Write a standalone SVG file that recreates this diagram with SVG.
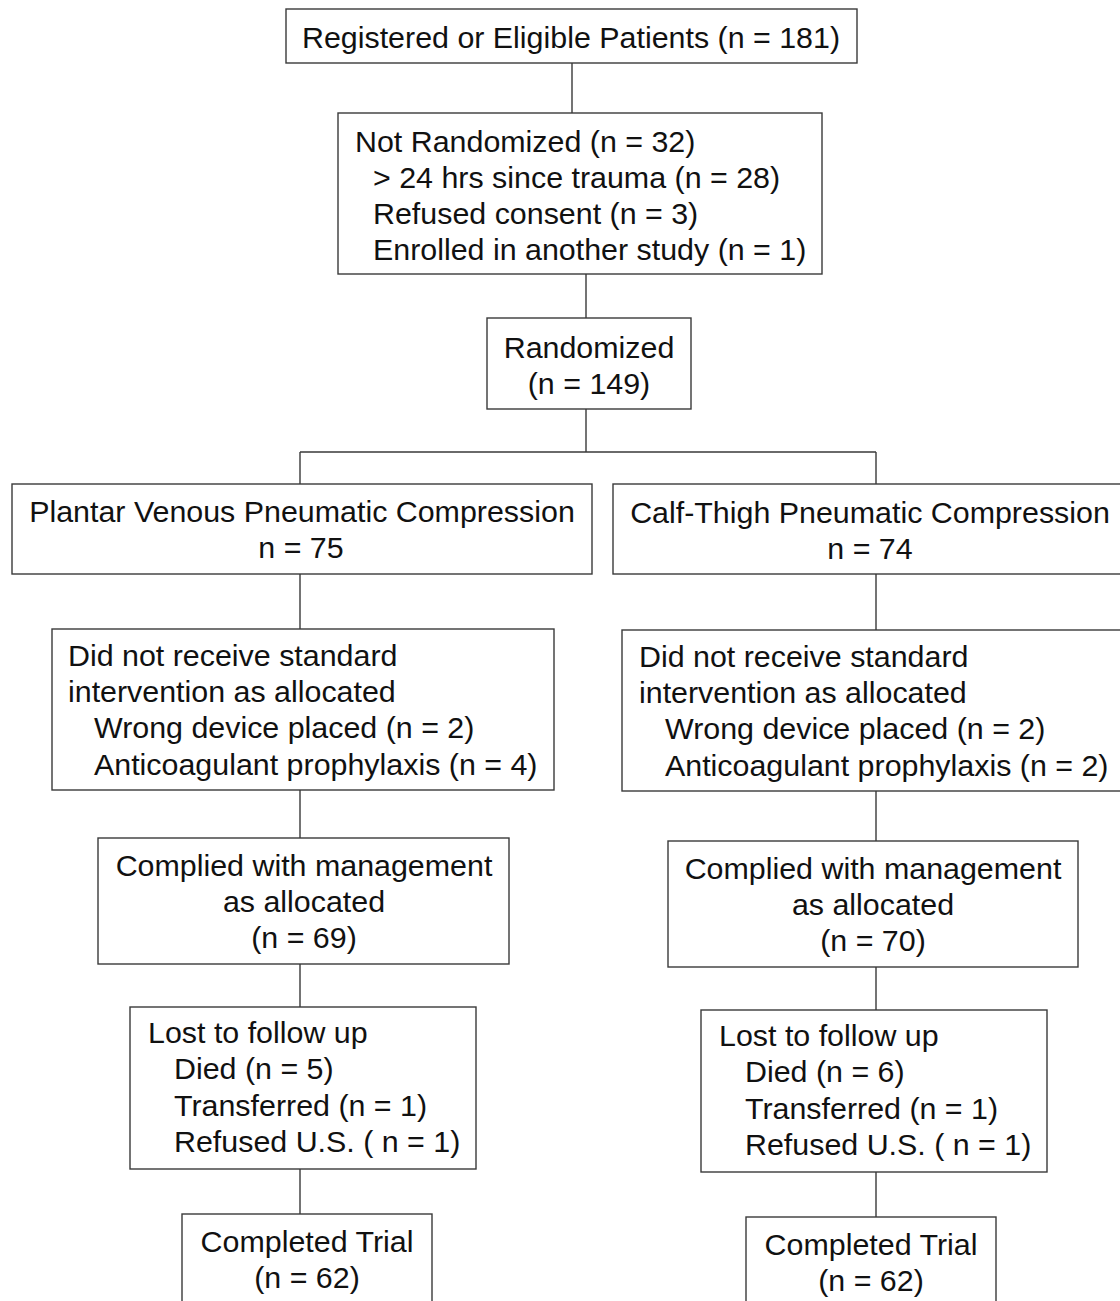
<svg xmlns="http://www.w3.org/2000/svg" width="1120" height="1301" viewBox="0 0 1120 1301">
<style>
.box{fill:#fff;stroke:#3a3a3a;stroke-width:1.4}
.t{font-family:"Liberation Sans",Arial,sans-serif;font-size:30.4px;fill:#111}
.c{text-anchor:middle}
.ln{stroke:#3a3a3a;stroke-width:1.4;fill:none}
</style>
<rect width="1120" height="1301" fill="#fff"/>
<g id="connectors">
<path class="ln" d="M572 63V113M586 274V318M586 409V452M300 452H876M300 452V484M876 452V484M300 574V629M876 574V630M300 790V838M876 791V841M300 964V1007M876 967V1010M300 1169V1214M876 1172V1217"/>
</g>
<g id="registered">
<rect class="box" x="286" y="9" width="571" height="54"/>
<text class="t c" x="571" y="48">Registered or Eligible Patients (n = 181)</text>
</g>
<g id="not-randomized">
<rect class="box" x="338" y="113" width="484" height="161"/>
<text class="t" x="355" y="152">Not Randomized (n = 32)</text>
<text class="t" x="373" y="188">&gt; 24 hrs since trauma (n = 28)</text>
<text class="t" x="373" y="224">Refused consent (n = 3)</text>
<text class="t" x="373" y="260">Enrolled in another study (n = 1)</text>
</g>
<g id="randomized">
<rect class="box" x="487" y="318" width="204" height="91"/>
<text class="t c" x="589" y="358">Randomized</text>
<text class="t c" x="589" y="394">(n = 149)</text>
</g>
<g id="plantar">
<rect class="box" x="12" y="484" width="580" height="90"/>
<text class="t c" x="302" y="522">Plantar Venous Pneumatic Compression</text>
<text class="t c" x="301" y="558">n = 75</text>
</g>
<g id="calf-thigh">
<rect class="box" x="613" y="484" width="520" height="90"/>
<text class="t c" x="870" y="523">Calf-Thigh Pneumatic Compression</text>
<text class="t c" x="870" y="559">n = 74</text>
</g>
<g id="not-received-left">
<rect class="box" x="52" y="629" width="502" height="161"/>
<text class="t" x="68" y="666">Did not receive standard</text>
<text class="t" x="68" y="702">intervention as allocated</text>
<text class="t" x="94" y="738">Wrong device placed (n = 2)</text>
<text class="t" x="94" y="775">Anticoagulant prophylaxis (n = 4)</text>
</g>
<g id="not-received-right">
<rect class="box" x="622" y="630" width="505" height="161"/>
<text class="t" x="639" y="667">Did not receive standard</text>
<text class="t" x="639" y="703">intervention as allocated</text>
<text class="t" x="665" y="739">Wrong device placed (n = 2)</text>
<text class="t" x="665" y="776">Anticoagulant prophylaxis (n = 2)</text>
</g>
<g id="complied-left">
<rect class="box" x="98" y="838" width="411" height="126"/>
<text class="t c" x="304" y="876">Complied with management</text>
<text class="t c" x="304" y="912">as allocated</text>
<text class="t c" x="304" y="948">(n = 69)</text>
</g>
<g id="complied-right">
<rect class="box" x="668" y="841" width="410" height="126"/>
<text class="t c" x="873" y="879">Complied with management</text>
<text class="t c" x="873" y="915">as allocated</text>
<text class="t c" x="873" y="951">(n = 70)</text>
</g>
<g id="lost-left">
<rect class="box" x="130" y="1007" width="346" height="162"/>
<text class="t" x="148" y="1043">Lost to follow up</text>
<text class="t" x="174" y="1079">Died (n = 5)</text>
<text class="t" x="174" y="1116">Transferred (n = 1)</text>
<text class="t" x="174" y="1152">Refused U.S. ( n = 1)</text>
</g>
<g id="lost-right">
<rect class="box" x="701" y="1010" width="346" height="162"/>
<text class="t" x="719" y="1046">Lost to follow up</text>
<text class="t" x="745" y="1082">Died (n = 6)</text>
<text class="t" x="745" y="1119">Transferred (n = 1)</text>
<text class="t" x="745" y="1155">Refused U.S. ( n = 1)</text>
</g>
<g id="completed-left">
<rect class="box" x="182" y="1214" width="250" height="100"/>
<text class="t c" x="307" y="1252">Completed Trial</text>
<text class="t c" x="307" y="1288">(n = 62)</text>
</g>
<g id="completed-right">
<rect class="box" x="746" y="1217" width="250" height="100"/>
<text class="t c" x="871" y="1255">Completed Trial</text>
<text class="t c" x="871" y="1291">(n = 62)</text>
</g>
</svg>
